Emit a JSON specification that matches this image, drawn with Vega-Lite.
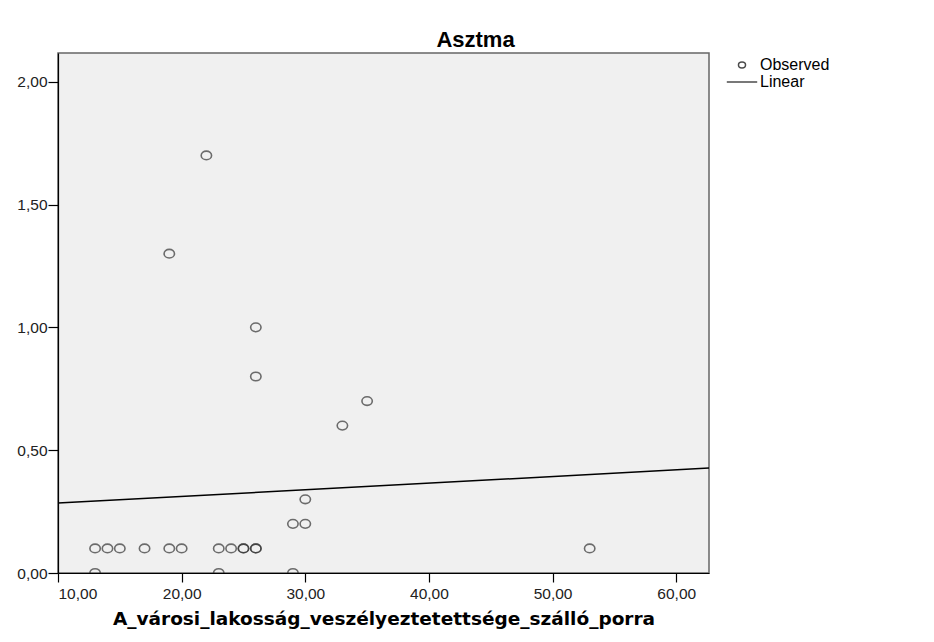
{
  "$schema": "https://vega.github.io/schema/vega-lite/v6.json",
  "autosize": {"type": "none"},
  "padding": {"left": 58, "top": 53, "right": 225, "bottom": 69},
  "width": 651,
  "height": 520,
  "background": "white",
  "title": {"text": "Asztma", "font": "Liberation Sans", "fontSize": 22, "fontWeight": "bold", "color": "#000", "anchor": "middle", "dx": 92, "offset": 1.5},
  "datasets": {
    "obs": [
      {"x": 13, "y": 0.1, "series": "Observed"},
      {"x": 14, "y": 0.1, "series": "Observed"},
      {"x": 15, "y": 0.1, "series": "Observed"},
      {"x": 17, "y": 0.1, "series": "Observed"},
      {"x": 19, "y": 0.1, "series": "Observed"},
      {"x": 20, "y": 0.1, "series": "Observed"},
      {"x": 23, "y": 0.1, "series": "Observed"},
      {"x": 24, "y": 0.1, "series": "Observed"},
      {"x": 25, "y": 0.1, "series": "Observed"},
      {"x": 25, "y": 0.1, "series": "Observed"},
      {"x": 26, "y": 0.1, "series": "Observed"},
      {"x": 26, "y": 0.1, "series": "Observed"},
      {"x": 53, "y": 0.1, "series": "Observed"},
      {"x": 13, "y": 0.0, "series": "Observed"},
      {"x": 23, "y": 0.0, "series": "Observed"},
      {"x": 29, "y": 0.0, "series": "Observed"},
      {"x": 29, "y": 0.2, "series": "Observed"},
      {"x": 30, "y": 0.2, "series": "Observed"},
      {"x": 30, "y": 0.3, "series": "Observed"},
      {"x": 33, "y": 0.6, "series": "Observed"},
      {"x": 35, "y": 0.7, "series": "Observed"},
      {"x": 26, "y": 0.8, "series": "Observed"},
      {"x": 26, "y": 1.0, "series": "Observed"},
      {"x": 19, "y": 1.3, "series": "Observed"},
      {"x": 22, "y": 1.7, "series": "Observed"}
    ],
    "fit": [
      {"x": 10, "y": 0.285},
      {"x": 62.65, "y": 0.427}
    ]
  },
  "layer": [
    {
      "data": {"name": "obs"},
      "mark": {"type": "point", "filled": false, "stroke": "#333", "strokeWidth": 1.6, "size": 557, "clip": true},
      "encoding": {
        "x": {"field": "x", "type": "quantitative",
          "scale": {"domain": [10, 62.65], "nice": false, "zero": false},
          "axis": {"title": "A_városi_lakosság_veszélyeztetettsége_szálló_porra", "values": [10, 20, 30, 40, 50, 60], "labelExpr": "replace(format(datum.value,'.2f'),'.',',')", "tickSize": 9, "labelPadding": 4, "titlePadding": 8}},
        "y": {"field": "y", "type": "quantitative",
          "scale": {"domain": [0, 2.117], "nice": false, "zero": false},
          "axis": {"title": null, "values": [0, 0.5, 1, 1.5, 2], "labelExpr": "replace(format(datum.value,'.2f'),'.',',')", "tickSize": 10, "labelPadding": 1}},
        "shape": {"field": "series", "type": "nominal",
          "scale": {"domain": ["Observed", "Linear"], "range": ["M-0.44,0A0.44,0.365,0,1,0,0.44,0A0.44,0.365,0,1,0,-0.44,0Z", "M-1.9,0L1.9,0"]},
          "legend": {"title": null, "orient": "none", "legendX": 675, "legendY": 3, "symbolSize": 256, "symbolStrokeColor": "#000", "symbolStrokeWidth": 1.5, "symbolFillColor": "transparent", "labelFontSize": 16, "labelFont": "Liberation Sans", "labelColor": "#000", "labelOffset": 9, "rowPadding": 0, "padding": 0}}
      }
    },
    {
      "data": {"name": "fit"},
      "mark": {"type": "line", "color": "#000", "strokeWidth": 1.5},
      "encoding": {
        "x": {"field": "x", "type": "quantitative"},
        "y": {"field": "y", "type": "quantitative"}
      }
    }
  ],
  "config": {
    "view": {"fill": "#f0f0f0", "stroke": "#666", "strokeWidth": 1.5},
    "axis": {"grid": false, "domainColor": "#000", "domainWidth": 1.2, "tickColor": "#000", "tickWidth": 1.2, "labelFont": "Liberation Sans", "labelFontSize": 15.5, "labelColor": "#222", "titleFont": "DejaVu Sans", "titleFontSize": 18.5, "titleFontWeight": "bold", "titleColor": "#000"}
  }
}
